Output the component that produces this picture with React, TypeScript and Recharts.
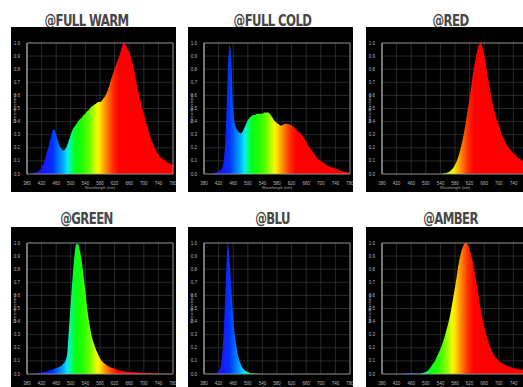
import {
  AreaChart,
  Area,
  XAxis,
  YAxis,
  CartesianGrid,
  ReferenceArea,
} from "recharts";

// wavelength in nm, sampled every 5 nm
const WAVELENGTHS = [
  380, 385, 390, 395, 400, 405, 410, 415, 420, 425,
  430, 435, 440, 445, 450, 455, 460, 465, 470, 475,
  480, 485, 490, 495, 500, 505, 510, 515, 520, 525,
  530, 535, 540, 545, 550, 555, 560, 565, 570, 575,
  580, 585, 590, 595, 600, 605, 610, 615, 620, 625,
  630, 635, 640, 645, 650, 655, 660, 665, 670, 675,
  680, 685, 690, 695, 700, 705, 710, 715, 720, 725,
  730, 735, 740, 745, 750, 755, 760, 765, 770, 775,
  780,
];

const X_TICKS = [380, 420, 460, 500, 540, 580, 620, 660, 700, 740, 780];
const Y_TICKS = [0, 0.1, 0.2, 0.3, 0.4, 0.5, 0.6, 0.7, 0.8, 0.9, 1];

const FULL_WARM = [
  0, 0, 0, 0.005, 0.01, 0.015, 0.02, 0.03, 0.05, 0.08,
  0.12, 0.17, 0.22, 0.28, 0.33, 0.34, 0.3, 0.25, 0.21, 0.19,
  0.18, 0.19, 0.22, 0.26, 0.3, 0.34, 0.36, 0.38, 0.4, 0.42,
  0.43, 0.45, 0.46, 0.48, 0.49, 0.51, 0.52, 0.53, 0.54, 0.55,
  0.55, 0.56, 0.58, 0.6, 0.63, 0.67, 0.72, 0.76, 0.8, 0.84,
  0.88, 0.92, 0.97, 1.0, 0.99, 0.96, 0.93, 0.89, 0.84, 0.77,
  0.7, 0.63, 0.57, 0.51, 0.46, 0.41, 0.36, 0.31, 0.27, 0.23,
  0.2, 0.17, 0.15, 0.13, 0.12, 0.11, 0.1, 0.09, 0.08, 0.075,
  0.07,
];

const FULL_COLD = [
  0, 0, 0, 0, 0, 0.005, 0.01, 0.015, 0.02, 0.03,
  0.05, 0.12, 0.35, 0.75, 0.99, 0.85, 0.48, 0.38, 0.34, 0.32,
  0.31, 0.32, 0.35, 0.38, 0.41, 0.43, 0.44, 0.45, 0.45, 0.46,
  0.46, 0.46, 0.46, 0.47, 0.47, 0.47, 0.46, 0.44, 0.42, 0.4,
  0.39, 0.38, 0.37, 0.375, 0.38, 0.385, 0.38, 0.38, 0.37, 0.36,
  0.35, 0.33, 0.32, 0.31, 0.29, 0.27, 0.25, 0.22, 0.2, 0.18,
  0.16, 0.14, 0.12, 0.11, 0.1, 0.09, 0.08, 0.07, 0.06, 0.055,
  0.05, 0.045, 0.04, 0.035, 0.03, 0.025, 0.02, 0.018, 0.015, 0.012,
  0.01,
];

const RED = [
  0, 0, 0, 0, 0, 0, 0, 0, 0, 0,
  0, 0, 0, 0, 0, 0, 0, 0, 0, 0,
  0, 0, 0, 0, 0, 0, 0, 0, 0, 0,
  0, 0, 0, 0, 0.005, 0.008, 0.012, 0.02, 0.03, 0.045,
  0.07, 0.1, 0.14, 0.19, 0.25, 0.32, 0.4, 0.49, 0.58, 0.68,
  0.78, 0.86, 0.93, 0.98, 1.0, 0.97, 0.91, 0.83, 0.74, 0.66,
  0.58, 0.52, 0.46, 0.41, 0.37, 0.33, 0.29, 0.26, 0.23, 0.21,
  0.19, 0.17, 0.16, 0.145, 0.13, 0.12, 0.11, 0.1, 0.09, 0.085,
  0.08,
];

const GREEN = [
  0, 0, 0, 0, 0.003, 0.005, 0.007, 0.01, 0.012, 0.015,
  0.018, 0.02, 0.025, 0.03, 0.035, 0.04, 0.045, 0.05, 0.055, 0.065,
  0.08, 0.1, 0.15, 0.35, 0.55, 0.74, 0.9, 0.99, 0.99, 0.94,
  0.86, 0.75, 0.63, 0.5, 0.4, 0.32, 0.26, 0.22, 0.18, 0.15,
  0.12, 0.1, 0.085, 0.075, 0.065, 0.055, 0.05, 0.045, 0.04, 0.035,
  0.03, 0.028, 0.025, 0.022, 0.02, 0.018, 0.016, 0.015, 0.014, 0.013,
  0.012, 0.011, 0.01, 0.009, 0.008, 0.007, 0.006, 0.005, 0.005, 0.004,
  0.004, 0.003, 0.003, 0.002, 0.002, 0.002, 0.001, 0.001, 0.001, 0,
  0,
];

const BLU = [
  0, 0, 0, 0, 0, 0, 0.005, 0.01, 0.02, 0.05,
  0.15, 0.38, 0.72, 1.0, 0.88, 0.65, 0.43, 0.28, 0.19, 0.12,
  0.08, 0.05, 0.03, 0.022, 0.015, 0.01, 0.007, 0.005, 0.003, 0.002,
  0.001, 0, 0, 0, 0, 0, 0, 0, 0, 0,
  0, 0, 0, 0, 0, 0, 0, 0, 0, 0,
  0, 0, 0, 0, 0, 0, 0, 0, 0, 0,
  0, 0, 0, 0, 0, 0, 0, 0, 0, 0,
  0, 0, 0, 0, 0, 0, 0, 0, 0, 0,
  0,
];

const AMBER = [
  0, 0, 0, 0, 0, 0, 0, 0, 0, 0,
  0, 0, 0.003, 0.004, 0.005, 0.005, 0.005, 0.004, 0.003, 0.002,
  0.002, 0.003, 0.005, 0.01, 0.015, 0.025, 0.04, 0.06, 0.08, 0.1,
  0.13, 0.16, 0.19, 0.23, 0.27, 0.32, 0.37, 0.43, 0.5, 0.58,
  0.66, 0.75, 0.84, 0.91, 0.96, 0.99, 1.0, 0.99, 0.95, 0.9,
  0.84, 0.76, 0.68, 0.59, 0.5, 0.43, 0.36, 0.31, 0.26, 0.22,
  0.18, 0.155, 0.13, 0.115, 0.1, 0.09, 0.08, 0.072, 0.065, 0.06,
  0.055, 0.05, 0.045, 0.042, 0.04, 0.037, 0.035, 0.033, 0.03, 0.03,
  0.03,
];

// colour of light along the axis, used as the area fill
const SPECTRUM_STOPS: [number, string][] = [
  [380, "#2a1090"],
  [410, "#2a10d0"],
  [430, "#1a18ff"],
  [450, "#0033ff"],
  [465, "#0070ff"],
  [480, "#00b0ff"],
  [490, "#00e8ff"],
  [500, "#00ff80"],
  [510, "#00ff20"],
  [530, "#20ff00"],
  [545, "#50ff00"],
  [560, "#a0ff00"],
  [572, "#f0ff00"],
  [580, "#ffe000"],
  [590, "#ffa800"],
  [600, "#ff7800"],
  [615, "#ff3000"],
  [632, "#ff0000"],
  [780, "#ff0000"],
];

const PANELS = [
  { id: "warm", title: "@FULL WARM", values: FULL_WARM, col: 0, row: 0 },
  { id: "cold", title: "@FULL COLD", values: FULL_COLD, col: 1, row: 0 },
  { id: "red", title: "@RED", values: RED, col: 2, row: 0 },
  { id: "green", title: "@GREEN", values: GREEN, col: 0, row: 1 },
  { id: "blu", title: "@BLU", values: BLU, col: 1, row: 1 },
  { id: "amber", title: "@AMBER", values: AMBER, col: 2, row: 1 },
];

const COL_LEFT = [11, 188, 366];
const COL_TITLE_SHIFT = [-7, 2, 2];
const ROW_TOP = [27, 227];
const ROW_TITLE_GAP = [-1, 1];
const BOX = 165;

const tickStyle = { fill: "#b8b8b8", fontSize: 4.5 };

function SpectrumPanel({
  id,
  title,
  values,
  col,
  row,
}: {
  id: string;
  title: string;
  values: number[];
  col: number;
  row: number;
}) {
  const data = WAVELENGTHS.map((w, i) => ({ w, v: values[i] }));
  const left = COL_LEFT[col];
  const top = ROW_TOP[row];

  return (
    <>
      <div
        style={{
          position: "absolute",
          left: left + COL_TITLE_SHIFT[col],
          top: top - ROW_TITLE_GAP[row] - 14,
          width: BOX,
          textAlign: "center",
          fontFamily: "'DejaVu Sans Condensed', 'DejaVu Sans'",
          fontWeight: "bold",
          fontSize: 13,
          lineHeight: "14px",
          letterSpacing: "-0.6px",
          color: "#474747",
          transform: "scaleY(1.15)",
        }}
      >
        {title}
      </div>
      <div
        style={{
          position: "absolute",
          left,
          top,
          width: BOX,
          height: BOX,
          background: "#000",
        }}
      >
        <AreaChart
          width={BOX}
          height={BOX}
          data={data}
          margin={{ top: 16, right: 3, bottom: 0, left: 0 }}
          style={{ fontFamily: "'Liberation Sans', Arial, sans-serif" }}
        >
          <defs>
            <linearGradient id={`spec-${id}`} x1="0" y1="0" x2="1" y2="0">
              {SPECTRUM_STOPS.map(([w, c]) => (
                <stop key={w} offset={`${((w - 380) / 400) * 100}%`} stopColor={c} />
              ))}
            </linearGradient>
          </defs>
          <CartesianGrid stroke="#444" strokeWidth={0.6} />
          <XAxis
            dataKey="w"
            type="number"
            domain={[380, 780]}
            ticks={X_TICKS}
            interval={0}
            height={18}
            tick={tickStyle}
            tickLine={false}
            axisLine={false}
            tickMargin={2}
            label={{
              value: "Wavelength (nm)",
              position: "insideBottom",
              offset: 3,
              fill: "#a8a8a8",
              fontSize: 4,
            }}
          />
          <YAxis
            type="number"
            domain={[0, 1]}
            ticks={Y_TICKS}
            interval={0}
            width={16}
            tick={tickStyle}
            tickLine={false}
            axisLine={{ stroke: "#a0a0a0" }}
            tickMargin={1}
            tickFormatter={(v: number) => v.toFixed(1)}
            label={{
              value: "Intensità relativa",
              angle: -90,
              position: "insideLeft",
              offset: 4,
              fill: "#a8a8a8",
              fontSize: 4,
              style: { textAnchor: "middle" },
            }}
          />
          <Area
            type="monotone"
            dataKey="v"
            stroke="none"
            fill={`url(#spec-${id})`}
            fillOpacity={1}
            isAnimationActive={false}
          />
          <ReferenceArea
            x1={380}
            x2={780}
            y1={0}
            y2={1}
            fill="none"
            stroke="#a0a0a0"
            strokeWidth={0.8}
            ifOverflow="visible"
          />
        </AreaChart>
      </div>
    </>
  );
}

export default function App() {
  return (
    <div
      style={{
        position: "absolute",
        left: 0,
        top: 0,
        width: 523,
        height: 387,
        overflow: "hidden",
        background: "#fff",
      }}
    >
      {PANELS.map((p) => (
        <SpectrumPanel key={p.id} {...p} />
      ))}
    </div>
  );
}
